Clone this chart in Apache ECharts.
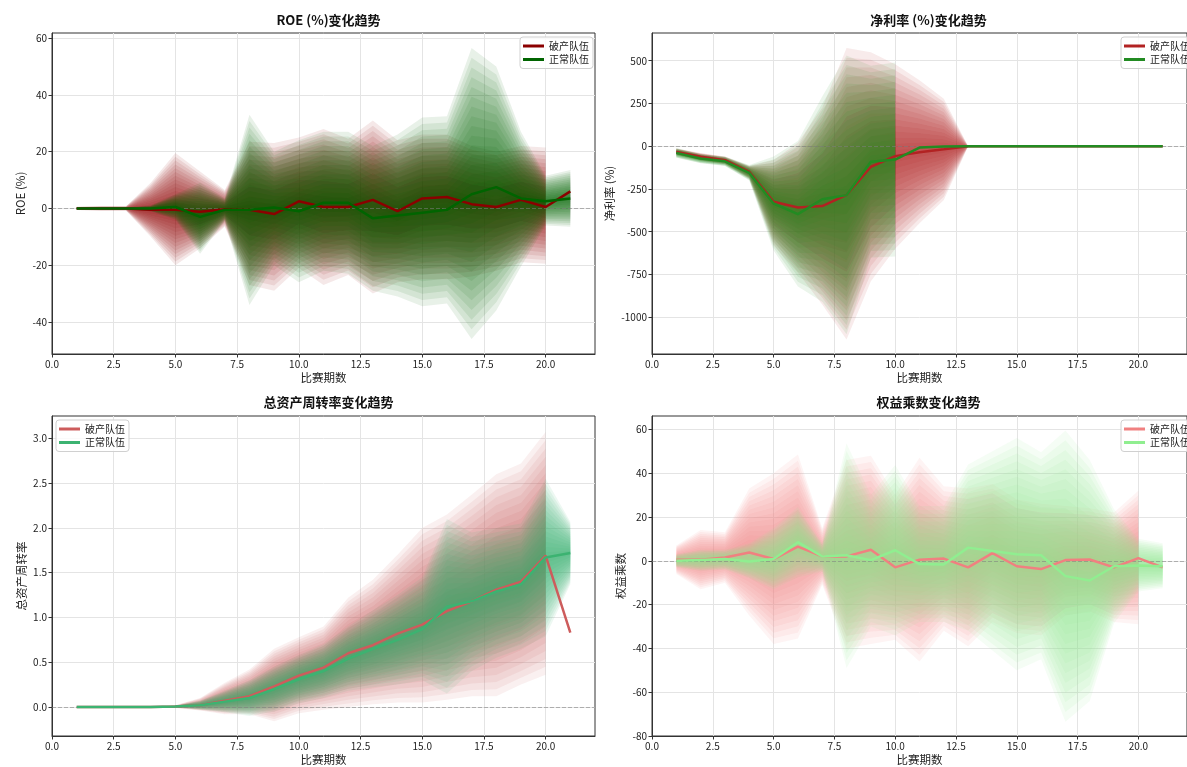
<!DOCTYPE html>
<html>
<head>
<meta charset="utf-8">
<title>财务指标变化趋势</title>
<script src="https://cdn.jsdelivr.net/npm/echarts@6/dist/echarts.min.js"></script>
<style>
  html, body { margin: 0; padding: 0; background: #fff; }
  #chart { width: 1187px; height: 767px; }
</style>
</head>
<body>
<div id="chart"></div>
<script>
/* 数据：比赛期数 */
var periods = [1, 2, 3, 4, 5, 6, 7, 8, 9, 10, 11, 12, 13, 14, 15, 16, 17, 18, 19, 20, 21];

/* 刻度 */
var xTicks = [0, 2.5, 5, 7.5, 10, 12.5, 15, 17.5, 20];
var roeTicks = [-40, -20, 0, 20, 40, 60];
var npmTicks = [-1000, -750, -500, -250, 0, 250, 500];
var tatTicks = [0, 0.5, 1, 1.5, 2, 2.5, 3];
var emTicks = [-80, -60, -40, -20, 0, 20, 40, 60];

/* ROE (%) */
var roeBankLine = [0, 0, 0, -0.5, -0.5, -1.2, -0.3, -0.5, -2, 2.5, 0.5, 0.5, 3, -1, 3.5, 4, 1.5, 0.5, 3, 0.5, 6];
var roeBankHi = [0.6, 0.8, 0.8, 9, 19.5, 13, 6.5, 23.5, 23, 25, 28, 24.5, 31, 24, 26, 26, 22, 20, 22, 21.5, null];
var roeBankLo = [-0.6, -0.8, -0.8, -10, -20, -14, -6.5, -27, -29, -21, -27, -23.5, -30, -26, -25, -25, -24, -22, -19, -19.5, null];
var roeNormLine = [0, 0, 0, 0, 0.5, -3, -0.5, -0.5, 0.3, -1, 2, 2, -3.5, -2.5, -1.5, -0.5, 5, 7.5, 3.5, 2.5, 3.5];
var roeNormHi = [0.3, 0.3, 0.3, 1, 5, 9, 3.5, 33, 20, 24, 27, 27, 22, 26, 32, 32.5, 56.5, 50, 27, 11.5, 13.5];
var roeNormLo = [-0.3, -0.3, -0.3, -1, -4, -16, -4.5, -34, -20, -26, -22, -23, -29, -31, -34.5, -33.5, -46, -36, -20.5, -6, -6.5];

/* 净利率 (%) */
var npmBankLine = [-33, -62, -82, -150, -325, -358, -350, -285, -120, -58, -35, -18, 0, 0, 0, 0, 0, 0, 0, 0, 0];
var npmBankHi = [-13, -40, -60, -115, -80, 20, 225, 575, 550, 480, 386, 278, 0, null, null, null, null, null, null, null, null];
var npmBankLo = [-53, -85, -105, -190, -580, -740, -925, -1130, -790, -600, -450, -315, 0, null, null, null, null, null, null, null, null];
var npmNormLine = [-39, -72, -88, -156, -335, -397, -310, -286, -91, -78, -8, -2, 0, 0, 0, 0, 0, 0, 0, 0, 0];
var npmNormHi = [-10, -45, -60, -110, -60, 30, 290, 530, 470, 490, null, null, null, null, null, null, null, null, null, null, null];
var npmNormLo = [-68, -100, -116, -200, -610, -820, -910, -1100, -650, -645, null, null, null, null, null, null, null, null, null, null, null];

/* 总资产周转率 */
var tatBankLine = [0, 0, 0, 0, 0.005, 0.02, 0.07, 0.12, 0.23, 0.35, 0.44, 0.6, 0.69, 0.82, 0.92, 1.07, 1.18, 1.31, 1.40, 1.69, 0.83];
var tatBankHi = [0, 0, 0, 0, 0.02, 0.1, 0.27, 0.42, 0.65, 0.78, 0.9, 1.22, 1.42, 1.7, 2.0, 2.15, 2.37, 2.6, 2.72, 3.07, null];
var tatBankLo = [0, 0, 0, 0, -0.01, -0.04, -0.08, -0.08, -0.16, -0.07, -0.03, 0.0, 0.03, 0.05, 0.05, 0.08, 0.12, 0.12, 0.25, 0.36, null];
var tatNormLine = [0, 0, 0, 0, 0.005, 0.02, 0.06, 0.1, 0.2, 0.31, 0.4, 0.54, 0.65, 0.75, 0.87, 1.12, 1.18, 1.29, 1.37, 1.67, 1.72];
var tatNormHi = [0, 0, 0, 0, 0.015, 0.07, 0.18, 0.3, 0.45, 0.58, 0.7, 0.9, 1.08, 1.25, 1.45, 2.1, 1.95, 2.0, 2.05, 2.55, 2.07];
var tatNormLo = [0, 0, 0, 0, -0.005, -0.03, -0.06, -0.1, -0.05, 0.04, 0.1, 0.18, 0.22, 0.25, 0.3, 0.15, 0.4, 0.55, 0.65, 0.79, 1.37];

/* 权益乘数 */
var emBankLine = [0.5, 0.5, 1.5, 3.8, 0.8, 6.5, 2, 2, 5, -3, 0.5, 1, -3, 3.5, -2.5, -3.8, 0.3, 0.6, -3, 1.2, -3];
var emBankHi = [7, 14, 13, 33, 40, 48.5, 15, 46, 48, 30, 47, 34, 33, 35, 28, 26, 25, 24, 22, 32, null];
var emBankLo = [-6, -13, -10, -25, -38, -35.5, -11, -40, -38, -36, -46, -32, -39, -28, -33, -34, -25, -23, -28, -29, null];
var emNormLine = [0, 0.3, 0.8, -0.3, 0.8, 8.5, 2, 2.5, 0.3, 4.8, -1.5, -1.7, 6, 4.5, 3, 2.5, -7, -9, -2.5, -2.2, -2.5];
var emNormHi = [3, 5, 5, 8, 15, 24.5, 8, 53.5, 30, 43.7, 25, 25, 44, 50, 56, 49.5, 59.5, 46, 23.5, 10, 8];
var emNormLo = [-3, -4.5, -4, -8, -13, -7.5, -5, -49, -30, -34, -28, -28, -32, -41, -50, -45, -73.5, -64, -28.5, -14, -12.5];

var FONT = 'Noto Sans CJK SC';
var LAYERS = 15;
var LAYER_ALPHA = 0.09;

function rgba(hex, a) {
  var n = parseInt(hex.slice(1), 16);
  return 'rgba(' + (n >> 16) + ',' + ((n >> 8) & 255) + ',' + (n & 255) + ',' + a + ')';
}

/* 一层扇形带：多边形由坐标轴换算 */
function bandLayer(gi, rows, color, z) {
  return {
    type: 'custom',
    coordinateSystem: 'cartesian2d',
    xAxisIndex: gi,
    yAxisIndex: gi,
    silent: true,
    clip: true,
    z: z,
    data: rows,
    encode: { x: 0, y: [1, 2] },
    renderItem: function (params, api) {
      if (params.dataIndex !== 0) return null;
      var top = [], bot = [];
      rows.forEach(function (r) {
        top.push(api.coord([r[0], r[2]]));
        bot.unshift(api.coord([r[0], r[1]]));
      });
      return {
        type: 'polygon',
        shape: { points: top.concat(bot) },
        style: { fill: rgba(color, LAYER_ALPHA) }
      };
    }
  };
}

function fanSeries(gi, mid, lo, hi, color, z) {
  var list = [];
  for (var k = 1; k <= LAYERS; k++) {
    var f = k / LAYERS, rows = [];
    periods.forEach(function (p, i) {
      if (lo[i] == null || hi[i] == null) return;
      rows.push([p, mid[i] + (lo[i] - mid[i]) * f, mid[i] + (hi[i] - mid[i]) * f]);
    });
    list.push(bandLayer(gi, rows, color, z));
  }
  return list;
}

function lineSeries(gi, name, vals, color, zeroLine) {
  var s = {
    type: 'line',
    name: name,
    xAxisIndex: gi,
    yAxisIndex: gi,
    data: periods.map(function (p, i) { return [p, vals[i]]; }),
    showSymbol: false,
    symbol: 'none',
    lineStyle: { color: color, width: 2.5 },
    itemStyle: { color: color },
    z: 10
  };
  if (zeroLine) {
    s.markLine = {
      silent: true,
      symbol: ['none', 'none'],
      label: { show: false },
      lineStyle: { type: [4, 2], color: 'rgba(128,128,128,0.55)', width: 1 },
      data: [{ yAxis: 0 }]
    };
  }
  return s;
}

var grids = [
  { left: 52, top: 33, width: 543, height: 321 },
  { left: 652, top: 33, width: 543, height: 321 },
  { left: 52, top: 416, width: 543, height: 320 },
  { left: 652, top: 416, width: 543, height: 320 }
];
grids.forEach(function (g) {
  g.show = true;
  g.borderColor = '#333';
  g.borderWidth = 1;
  g.backgroundColor = 'transparent';
});

function xAxis(gi) {
  return {
    type: 'value', gridIndex: gi, min: 0, max: 22,
    name: '比赛期数', nameLocation: 'middle', nameGap: 18,
    nameTextStyle: { fontFamily: FONT, fontSize: 11.5, color: '#222' },
    axisLine: { show: true, onZero: false, lineStyle: { color: '#333' } },
    axisTick: { show: true, length: 3.5, customValues: xTicks, lineStyle: { color: '#333' } },
    axisLabel: {
      customValues: xTicks, margin: 5, fontFamily: FONT, fontSize: 10, color: '#222',
      formatter: function (v) { return v.toFixed(1); }
    },
    splitLine: { show: true, lineStyle: { color: '#e4e4e4', width: 1 } }
  };
}

function yAxis(gi, name, min, max, ticks, gap, digits) {
  return {
    type: 'value', gridIndex: gi, min: min, max: max,
    name: name, nameLocation: 'middle', nameGap: gap,
    nameTextStyle: { fontFamily: FONT, fontSize: 11.5, color: '#222' },
    axisLine: { show: true, lineStyle: { color: '#333' } },
    axisTick: { show: true, length: 3.5, customValues: ticks, lineStyle: { color: '#333' } },
    axisLabel: {
      customValues: ticks, margin: 5, fontFamily: FONT, fontSize: 10, color: '#222',
      formatter: function (v) { return digits ? v.toFixed(digits) : String(v); }
    },
    splitLine: { show: true, lineStyle: { color: '#e4e4e4', width: 1 } }
  };
}

function title(text, cx, top) {
  return {
    text: text, left: cx, top: top, textAlign: 'center',
    textStyle: { fontFamily: FONT, fontSize: 13, fontWeight: 'bold', color: '#111' }
  };
}

function legend(left, top, c1, c2) {
  return {
    left: left, top: top, orient: 'vertical', selectedMode: false,
    icon: 'rect', itemWidth: 21, itemHeight: 3, itemGap: 1.5,
    padding: [3, 4, 3, 3],
    backgroundColor: 'rgba(255,255,255,0.8)',
    borderColor: '#d0d0d0', borderWidth: 1, borderRadius: 3,
    textStyle: { fontFamily: FONT, fontSize: 10, color: '#222', lineHeight: 12 },
    data: [
      { name: '破产队伍', itemStyle: { color: c1 } },
      { name: '正常队伍', itemStyle: { color: c2 } }
    ]
  };
}

var plots = [
  { bank: [roeBankLine, roeBankLo, roeBankHi], norm: [roeNormLine, roeNormLo, roeNormHi], c1: '#8B0000', c2: '#006400' },
  { bank: [npmBankLine, npmBankLo, npmBankHi], norm: [npmNormLine, npmNormLo, npmNormHi], c1: '#B22222', c2: '#228B22' },
  { bank: [tatBankLine, tatBankLo, tatBankHi], norm: [tatNormLine, tatNormLo, tatNormHi], c1: '#CD5C5C', c2: '#3CB371' },
  { bank: [emBankLine, emBankLo, emBankHi], norm: [emNormLine, emNormLo, emNormHi], c1: '#F08080', c2: '#90EE90' }
];

var series = [];
plots.forEach(function (pl, gi) {
  series = series.concat(fanSeries(gi, pl.bank[0], pl.bank[1], pl.bank[2], pl.c1, 2));
  series = series.concat(fanSeries(gi, pl.norm[0], pl.norm[1], pl.norm[2], pl.c2, 3));
  series.push(lineSeries(gi, '破产队伍', pl.bank[0], pl.c1, true));
  series.push(lineSeries(gi, '正常队伍', pl.norm[0], pl.c2, false));
});

var chart = echarts.init(document.getElementById('chart'));
chart.setOption({
  animation: false,
  backgroundColor: '#fff',
  textStyle: { fontFamily: FONT },
  title: [
    title('ROE (%)变化趋势', 323.5, 9),
    title('净利率 (%)变化趋势', 923.5, 9),
    title('总资产周转率变化趋势', 323.5, 391),
    title('权益乘数变化趋势', 923.5, 391)
  ],
  legend: [
    legend(520, 37, '#8B0000', '#006400'),
    legend(1121, 37, '#B22222', '#228B22'),
    legend(56, 420, '#CD5C5C', '#3CB371'),
    legend(1121, 420, '#F08080', '#90EE90')
  ],
  grid: grids,
  xAxis: [xAxis(0), xAxis(1), xAxis(2), xAxis(3)],
  yAxis: [
    yAxis(0, 'ROE (%)', -51.3, 61.8, roeTicks, 26, 0),
    yAxis(1, '净利率 (%)', -1215, 662, npmTicks, 37, 0),
    yAxis(2, '总资产周转率', -0.324, 3.25, tatTicks, 25, 1),
    yAxis(3, '权益乘数', -80, 66.1, emTicks, 26, 0)
  ],
  series: series
});
</script>
</body>
</html>
